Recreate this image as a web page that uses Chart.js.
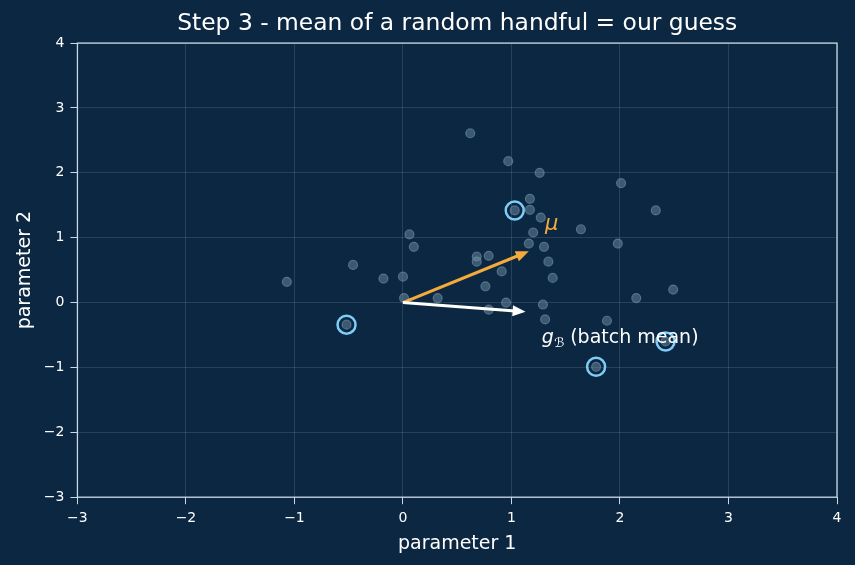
<!DOCTYPE html>
<html>
<head>
<meta charset="utf-8">
<script src="https://cdn.jsdelivr.net/npm/chart.js@4"></script>
<style>
  html, body { margin: 0; padding: 0; background: #0c2741; }
  #wrap { width: 855px; height: 565px; }
</style>
</head>
<body>
<div id="wrap"><canvas id="myChart"></canvas></div>
<script>
// all sample gradients (parameter 1, parameter 2)
const sampleX = [-1.07, -0.46, -0.18, 0.00, 0.01, 0.06, 0.10, 0.32, 0.62, 0.68, 0.68, 0.79, 0.76, 0.91, 0.79, 0.95, 0.97, 1.03, 1.17, 1.17,
                 1.26, 1.27, 1.20, 1.16, 1.30, 1.34, 1.38, 1.29, 1.31, 1.64, 1.98, 2.01, 2.33, 2.15, 2.49, 1.88, 2.42, 1.78, -0.52];
const sampleY = [0.32, 0.58, 0.37, 0.40, 0.07, 1.05, 0.86, 0.07, 2.61, 0.71, 0.63, 0.72, 0.25, 0.48, -0.11, 0.00, 2.18, 1.42, 1.60, 1.43,
                 2.00, 1.31, 1.08, 0.91, 0.86, 0.63, 0.38, -0.03, -0.26, 1.13, 0.91, 1.84, 1.42, 0.07, 0.20, -0.28, -0.60, -0.99, -0.34];
// the random handful (batch)
const batchX = [1.03, -0.52, 1.78, 2.42];
const batchY = [1.42, -0.34, -0.99, -0.60];
// arrows from origin
const muEnd = [1.16, 0.79];
const gEnd = [1.13, -0.14];
const xTicks = [-3, -2, -1, 0, 1, 2, 3, 4];
const yTicks = [-3, -2, -1, 0, 1, 2, 3, 4];

const toPts = (xs, ys) => xs.map((x, i) => ({x: x, y: ys[i]}));
const minus = v => String(v).replace('-', '\u2212');

// matplotlib-like frame + arrows + labels
const extras = {
  id: 'extras',
  beforeDraw(chart) {
    const c = chart.ctx;
    c.save();
    c.fillStyle = '#0c2741';
    c.fillRect(0, 0, chart.width, chart.height);
    c.restore();
  },
  afterDatasetsDraw(chart) {
    const c = chart.ctx, xs = chart.scales.x, ys = chart.scales.y;
    const arrow = (end, color) => {
      const x0 = xs.getPixelForValue(0), y0 = ys.getPixelForValue(0);
      const x1 = xs.getPixelForValue(end[0]), y1 = ys.getPixelForValue(end[1]);
      const a = Math.atan2(y1 - y0, x1 - x0);
      const hl = 13, hw = 5.5;
      c.save();
      c.strokeStyle = color; c.fillStyle = color; c.lineWidth = 3;
      c.beginPath(); c.moveTo(x0, y0);
      c.lineTo(x1 - Math.cos(a) * hl * 0.8, y1 - Math.sin(a) * hl * 0.8); c.stroke();
      c.beginPath();
      c.moveTo(x1, y1);
      c.lineTo(x1 - Math.cos(a) * hl - Math.sin(a) * hw, y1 - Math.sin(a) * hl + Math.cos(a) * hw);
      c.lineTo(x1 - Math.cos(a) * hl + Math.sin(a) * hw, y1 - Math.sin(a) * hl - Math.cos(a) * hw);
      c.closePath(); c.fill();
      c.restore();
    };
    arrow(muEnd, '#f5ab3c');
    arrow(gEnd, '#ffffff');

    c.save();
    c.textBaseline = 'alphabetic';
    c.fillStyle = '#f5ab3c';
    c.font = 'oblique 21px "DejaVu Sans"';
    c.fillText('\u03bc', xs.getPixelForValue(1.31), ys.getPixelForValue(1.12));
    let gx = xs.getPixelForValue(1.28), gy = ys.getPixelForValue(-0.62);
    c.fillStyle = '#ffffff';
    c.font = 'oblique 19px "DejaVu Sans"';
    c.fillText('g', gx, gy);
    gx += c.measureText('g').width;
    c.font = 'oblique 13px "DejaVu Sans"';
    c.fillText('\u212c', gx, gy + 4);
    gx += c.measureText('\u212c').width;
    c.font = '19px "DejaVu Sans"';
    c.fillText(' (batch mean)', gx, gy);
    c.restore();
  },
  afterDraw(chart) {
    const c = chart.ctx, a = chart.chartArea;
    c.save();
    c.strokeStyle = '#c9d9e8'; c.lineWidth = 1.3;
    c.strokeRect(a.left, a.top, a.right - a.left, a.bottom - a.top);
    c.restore();
  }
};

const ctx = document.getElementById('myChart');
const myChart = new Chart(ctx, {
  type: 'scatter',
  data: {
    datasets: [
      {
        label: 'batch',
        data: toPts(batchX, batchY),
        pointRadius: 9,
        pointBorderWidth: 2.5,
        pointBorderColor: '#7dcdf7',
        pointBackgroundColor: 'rgba(0,0,0,0)',
        pointHoverRadius: 9,
      },
      {
        label: 'samples',
        data: toPts(sampleX, sampleY),
        pointRadius: 4.5,
        pointBorderWidth: 1.2,
        pointBackgroundColor: 'rgba(118,150,172,0.45)',
        pointBorderColor: 'rgba(140,170,190,0.45)',
      },
    ]
  },
  options: {
    responsive: true,
    maintainAspectRatio: false,
    animation: false,
    events: [],
    layout: { padding: { left: 14, right: 18, top: 0, bottom: 11 } },
    plugins: {
      legend: { display: false },
      tooltip: { enabled: false },
      title: {
        display: true,
        fullSize: false,
        text: 'Step 3 - mean of a random handful = our guess',
        color: '#ffffff',
        font: { family: 'DejaVu Sans', size: 23.4, weight: 'normal' },
        padding: { top: 10, bottom: 5 },
      },
    },
    scales: {
      x: {
        type: 'linear', min: -3, max: 4,
        afterBuildTicks: s => { s.ticks = xTicks.map(v => ({value: v})); },
        ticks: { color: '#ffffff', font: { family: 'DejaVu Sans', size: 14 }, callback: minus, padding: 6 },
        grid: { color: 'rgba(255,255,255,0.12)', tickColor: '#c9d9e8', tickLength: 7 },
        border: { display: false },
        title: { display: true, text: 'parameter 1', color: '#ffffff', font: { family: 'DejaVu Sans', size: 19, lineHeight: 1 }, padding: { top: 2, bottom: 0 } },
      },
      y: {
        type: 'linear', min: -3, max: 4,
        afterBuildTicks: s => { s.ticks = yTicks.map(v => ({value: v})); },
        ticks: { color: '#ffffff', font: { family: 'DejaVu Sans', size: 14 }, callback: minus, padding: 6 },
        grid: { color: 'rgba(255,255,255,0.12)', tickColor: '#c9d9e8', tickLength: 7 },
        border: { display: false },
        title: { display: true, text: 'parameter 2', color: '#ffffff', font: { family: 'DejaVu Sans', size: 19 }, padding: { top: 0, bottom: 1 } },
      },
    },
  },
  plugins: [extras],
});
</script>
</body>
</html>
